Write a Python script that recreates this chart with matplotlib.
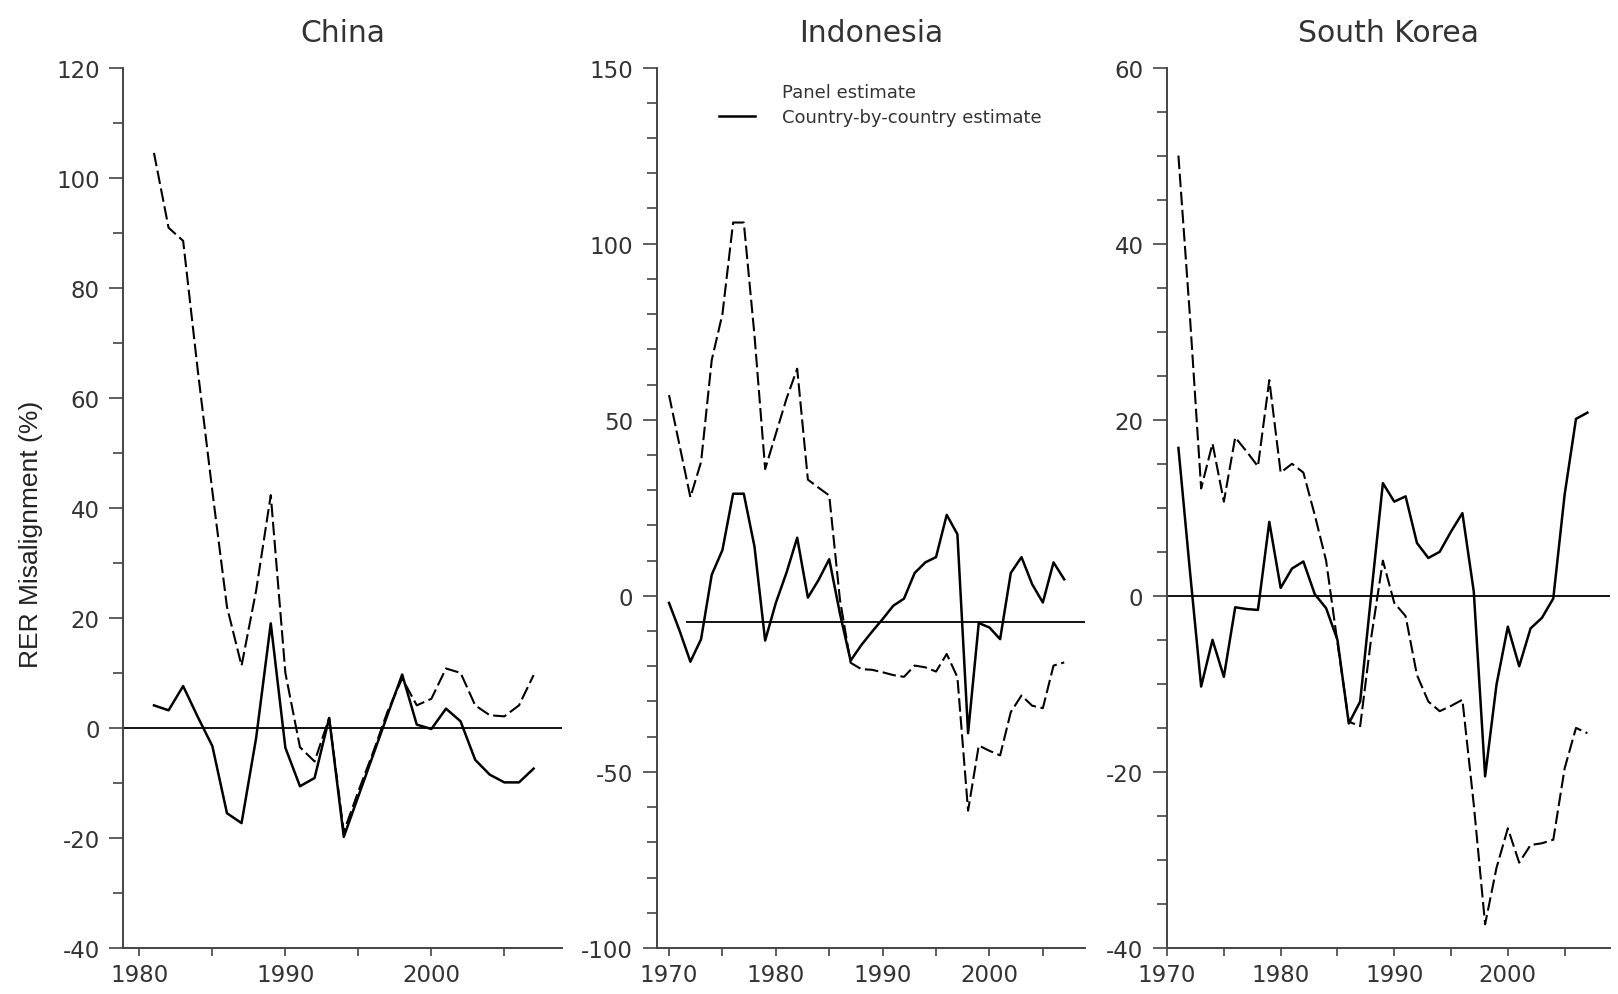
import matplotlib
matplotlib.use('Agg')
import matplotlib.pyplot as plt
from matplotlib.lines import Line2D
from matplotlib.ticker import MultipleLocator

plt.rcParams['axes.unicode_minus'] = False

# RER misalignment (%) by year, panel vs country-by-country estimates
years_cn = list(range(1981, 2008))
cn_panel = [104.5, 90.9, 88.5, 65, 43, 22, 11.3, 25, 42.3, 10, -3.5, -6.1, 1.8,
            -18.9, -11.5, -4.5, 3, 9, 4.1, 5.3, 10.8, 10, 4.1, 2.3, 2.1, 4.1, 9.6]
cn_country = [4.1, 3.2, 7.6, 2, -3.3, -15.5, -17.3, -1.8, 19, -3.6, -10.6, -9.1, 1.8,
              -19.8, -12.4, -5, 2.4, 9.7, 0.6, -0.2, 3.5, 1.2, -5.8, -8.5, -9.9, -9.9, -7.4]

years_id = list(range(1970, 2008))
id_panel = [57, 42.5, 28, 38, 67, 80, 106, 106, 74, 36, 46, 56, 64.5, 33, 30.7, 28.5,
            -1, -19, -20.8, -21, -21.7, -22.5, -23, -19.8, -20.3, -21.5, -16.5, -23.1,
            -61, -42.5, -44, -45.3, -33, -28.3, -31.2, -31.9, -19.8, -18.9]
id_country = [-2, -10, -18.7, -12.3, 6, 13, 29, 29, 14, -12.7, -2, 6.6, 16.5, -0.5,
              4.5, 10.4, -5, -18.4, -14, -10.2, -6.6, -2.8, -0.8, 6.5, 9.5, 11, 23,
              17.5, -39, -7.7, -9, -12.3, 6.5, 11, 3.3, -1.9, 9.5, 4.7]
id_ref_level = -7.5
id_ref_start = 1971.6

years_kr = list(range(1971, 2008))
kr_panel = [50, 32, 12.2, 17.3, 10.7, 18, 16.4, 14.7, 24.5, 14, 15, 14, 9.2, 4,
            -5.3, -14.3, -14.8, -4.5, 4, -0.8, -2.3, -9, -12, -13.1, -12.5, -11.8,
            -23.7, -37.3, -30.9, -26.4, -30.3, -28.3, -28.1, -27.7, -19.6, -15, -15.6]
kr_country = [16.8, 3, -10.3, -5, -9.2, -1.3, -1.5, -1.6, 8.4, 0.9, 3.1, 3.9, 0.2,
              -1.4, -5, -14.5, -12, 0.5, 12.8, 10.7, 11.3, 6, 4.3, 5, 7.3, 9.4, 0.5,
              -20.5, -10.1, -3.5, -8, -3.7, -2.5, -0.3, 11.5, 20.1, 20.8]

titles = ['China', 'Indonesia', 'South Korea']
x_years = [years_cn, years_id, years_kr]
panel_vals = [cn_panel, id_panel, kr_panel]
country_vals = [cn_country, id_country, kr_country]

# layout per panel: rect, xlim, ylim, y major step, y minor step
rects = [[0.0762, 0.0462, 0.2710, 0.8849],
         [0.4059, 0.0462, 0.2647, 0.8849],
         [0.7213, 0.0462, 0.2738, 0.8849]]
xlims = [(1978.9, 2008.93), (1968.85, 2008.95), (1970.0, 2009.0)]
ylims = [(-40, 120), (-100, 150), (-40, 60)]
ymajor = [20, 50, 20]
yminor = [10, 10, 5]

txt = '#333333'
axc = '#444444'
dash = (0, (6.5, 2.2))

fig = plt.figure(figsize=(16.18, 9.95), dpi=100)
axes = []
for i in range(3):
    ax = fig.add_axes(rects[i])
    ax.plot(x_years[i], panel_vals[i], color='k', lw=1.5, ls=dash)
    ax.plot(x_years[i], country_vals[i], color='k', lw=1.8)
    if i == 1:
        ax.hlines(id_ref_level, id_ref_start, xlims[i][1], color='k', lw=1.3)
    else:
        ax.axhline(0, color='k', lw=1.3)

    ax.set_xlim(*xlims[i])
    ax.set_ylim(*ylims[i])
    ax.xaxis.set_major_locator(MultipleLocator(10))
    ax.xaxis.set_minor_locator(MultipleLocator(5))
    ax.yaxis.set_major_locator(MultipleLocator(ymajor[i]))
    ax.yaxis.set_minor_locator(MultipleLocator(yminor[i]))

    for s in ['top', 'right']:
        ax.spines[s].set_visible(False)
    for s in ['left', 'bottom']:
        ax.spines[s].set_color(axc)
        ax.spines[s].set_linewidth(1.4)

    ax.tick_params(axis='y', which='major', length=10, width=1.2, color=axc,
                   labelsize=16.5, labelcolor=txt, pad=7)
    ax.tick_params(axis='y', which='minor', length=7, width=1.2, color=axc)
    ax.tick_params(axis='x', which='both', length=6, width=1.2, color=axc,
                   labelsize=16.5, labelcolor=txt, pad=5)
    ax.set_title(titles[i], fontsize=21.5, color=txt, pad=19)
    axes.append(ax)

fig.text(31 / 1618, 1 - 534 / 995, 'RER Misalignment (%)', rotation=90,
         ha='center', va='center', fontsize=19, color='#222222',
         family=['Liberation Sans', 'DejaVu Sans'])

# legend sits inside the Indonesia panel; the panel entry shows no sample line
h_panel = Line2D([], [], color='k', lw=1.5, ls=dash, visible=False)
h_country = Line2D([], [], color='k', lw=1.8)
axes[1].legend([h_panel, h_country], ['Panel estimate', 'Country-by-country estimate'],
               loc='upper left', bbox_to_anchor=(719 / 1618, 1 - 84 / 995),
               bbox_transform=fig.transFigure, frameon=False, fontsize=13,
               labelcolor=txt, handlelength=2.0, handletextpad=1.5,
               labelspacing=0.4, borderpad=0, borderaxespad=0)

fig.savefig('out.png', dpi=100)
